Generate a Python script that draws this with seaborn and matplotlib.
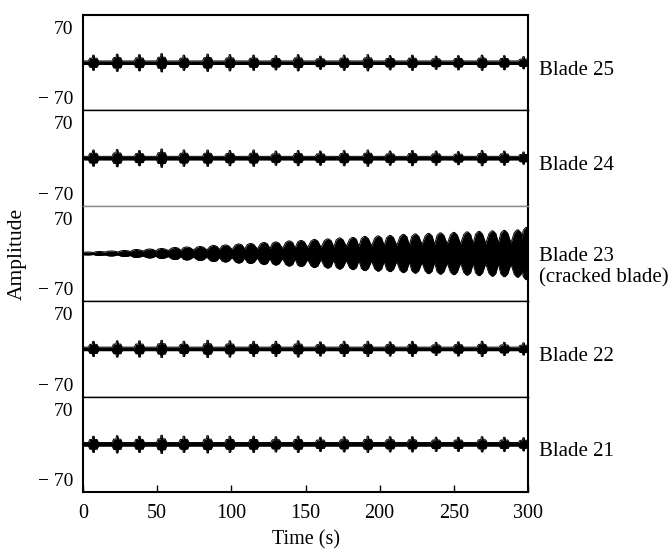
import numpy as np
import pandas as pd
import matplotlib
matplotlib.use("Agg")
import matplotlib.pyplot as plt
import seaborn as sns

# ---- data -----------------------------------------------------------------
# Blade 23 (cracked): times of the beat maxima and their envelope amplitude,
# plus the envelope level in the valleys between beats.
peak_t_23 = [3, 11, 19, 28, 36, 45, 53, 62, 70, 79, 88, 96, 105, 113, 122, 130,
             139, 147, 156, 165, 173, 182, 190, 199, 207, 216, 224, 233, 241,
             250, 259, 267, 276, 284, 293, 299]
peak_a_23 = [3, 4, 5, 6, 8, 9, 10, 12, 13, 14, 16, 17, 19, 20, 22, 23,
             25, 26, 28, 29, 31, 32, 34, 35, 36, 38, 39, 40, 41,
             42, 43, 44, 45, 46, 47, 52]
valley_t_23 = [0, 7, 15, 23.5, 32, 40.5, 49, 57.5, 66, 74.5, 83.5, 92, 100.5,
               109, 117.5, 126, 134.5, 143, 151.5, 160.5, 169, 177.5, 186,
               194.5, 203, 211.5, 220, 228.5, 237, 245.5, 254.5, 263, 271.5,
               280, 288.5, 296]
valley_a_23 = [1.5, 2, 3, 3, 4, 5, 5, 6, 6, 7, 7, 8, 8, 9, 9, 10,
               10, 11, 12, 12, 13, 14, 14, 15, 16, 16, 17, 18, 18,
               19, 19, 20, 20, 21, 21, 30]

# Healthy blades: burst times and burst amplitudes over a steady baseline.
burst_t = [7, 23, 38, 53, 68, 84, 99, 115, 130, 145, 160, 176, 192, 207, 222,
           238, 253, 269, 284, 297]
burst_a_25 = [15, 17, 16, 18, 15, 17, 16, 15, 14, 16, 13, 15, 16, 14, 15, 13, 14, 15, 14, 12]
burst_a_24 = [16, 17, 15, 18, 16, 16, 15, 16, 14, 15, 14, 15, 16, 14, 15, 14, 13, 15, 14, 12]
burst_a_22 = [15, 16, 16, 17, 15, 17, 16, 15, 15, 16, 14, 15, 15, 14, 15, 13, 14, 15, 13, 12]
burst_a_21 = [16, 17, 16, 18, 16, 17, 16, 16, 15, 16, 14, 15, 16, 15, 15, 14, 14, 15, 14, 13]
baseline_a = [3.5, 3.5, 3.5, 3.5]          # blades 25, 24, 22, 21

blade_names = ["Blade 25", "Blade 24", "Blade 23\n(cracked blade)", "Blade 22", "Blade 21"]
x_ticks = [0, 50, 100, 150, 200, 250, 300]
y_ticks = [-70, 70]
y_tick_labels = ["\u2212 70", "70"]


# ---- envelope construction ----------------------------------------------
def cracked_envelope(pt, pa, vt, va, half=0.5, shoulder=2.3):
    pts = list(zip(vt, va))
    for t, a in zip(pt, pa):
        pts += [(t - shoulder, 0.88 * a), (t - half, a),
                (t + half, a), (t + shoulder, 0.88 * a)]
    pts.sort()
    return pd.DataFrame(pts, columns=["t", "amp"])


def healthy_envelope(bt, ba, base):
    pts = [(0, base), (300, base)]
    for t, a in zip(bt, ba):
        side = 0.6 * a
        pts += [(t - 3.4, base), (t - 2.4, side), (t - 0.8, side),
                (t - 0.45, a), (t + 0.45, a), (t + 0.8, side),
                (t + 2.4, side), (t + 3.4, base)]
    pts.sort()
    return pd.DataFrame(pts, columns=["t", "amp"])


envelopes = [
    healthy_envelope(burst_t, burst_a_25, baseline_a[0]),
    healthy_envelope(burst_t, burst_a_24, baseline_a[1]),
    cracked_envelope(peak_t_23, peak_a_23, valley_t_23, valley_a_23),
    healthy_envelope(burst_t, burst_a_22, baseline_a[2]),
    healthy_envelope(burst_t, burst_a_21, baseline_a[3]),
]

# ---- figure ---------------------------------------------------------------
sns.set_theme(style="white")
plt.rcParams["font.family"] = ["Liberation Serif", "DejaVu Serif"]
plt.rcParams.update({
    "text.color": "black", "axes.labelcolor": "black",
    "xtick.color": "black", "ytick.color": "black",
    "axes.edgecolor": "black", "axes.unicode_minus": True,
})

fig = plt.figure(figsize=(6.71, 5.5), dpi=100)
gs = fig.add_gridspec(5, 1, left=0.1237, right=0.7869, bottom=0.1055,
                      top=0.9727, hspace=0)
axes = [fig.add_subplot(gs[i, 0]) for i in range(5)]

for i, (ax, env, name) in enumerate(zip(axes, envelopes, blade_names)):
    ax.fill_between(env["t"], -env["amp"], env["amp"], color="black", lw=0)
    sns.lineplot(x=env["t"], y=env["amp"], ax=ax, color="black", lw=0.7,
                 estimator=None, sort=False)
    sns.lineplot(x=env["t"], y=-env["amp"], ax=ax, color="black", lw=0.7,
                 estimator=None, sort=False)
    ax.set_xlim(0, 300)
    ax.set_ylim(-95, 95)
    ax.set_yticks(y_ticks)
    ax.set_yticklabels(y_tick_labels)
    ax.tick_params(axis="y", length=0, pad=7, labelsize=14)
    ax.set_xlabel("")
    ax.set_ylabel("")
    for s in ax.spines.values():
        s.set_color("black")
        s.set_linewidth(1.0)
    ax.spines["left"].set_linewidth(1.5)
    ax.spines["right"].set_linewidth(1.5)
    ax.text(1.025, 0.42 if i != 2 else 0.36, name, transform=ax.transAxes,
            ha="left", va="center", fontsize=15, linespacing=1.15)
    if i < 4:
        ax.set_xticks([])
    else:
        ax.set_xticks(x_ticks)
        ax.tick_params(axis="x", direction="in", length=5, width=1.0,
                       pad=9, labelsize=14.5, bottom=True, top=False)
        ax.set_xlabel("Time (s)", fontsize=14.5, labelpad=5)

axes[0].spines["top"].set_linewidth(1.5)
axes[4].spines["bottom"].set_linewidth(1.5)
axes[1].spines["bottom"].set_color("#8c8c8c")
axes[2].spines["top"].set_color("#8c8c8c")

fig.text(0.026, 0.539, "Amplitude", rotation=90, ha="center", va="center",
         fontsize=15.5)

fig.savefig("out.png", dpi=100, facecolor="white")
